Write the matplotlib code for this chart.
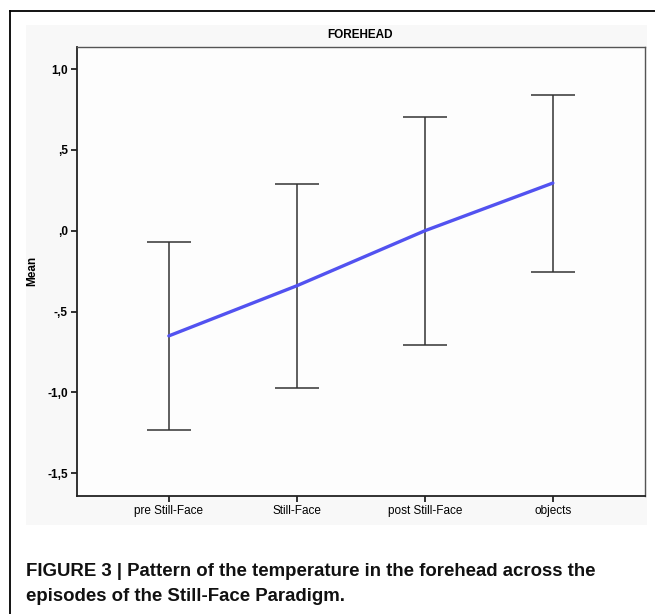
import numpy as np
import matplotlib
matplotlib.use("Agg")
import matplotlib.pyplot as plt
from matplotlib.patches import Rectangle
from matplotlib.lines import Line2D

# data
episodes = ["pre Still-Face", "Still-Face", "post Still-Face", "objects"]
means = [-0.65, -0.34, 0.0, 0.295]
upper = [-0.072, 0.288, 0.703, 0.842]
lower = [-1.231, -0.972, -0.705, -0.256]
ytick_vals = [1.0, 0.5, 0.0, -0.5, -1.0, -1.5]
ytick_labels = ["1,0", ",5", ",0", "-,5", "-1,0", "-1,5"]

plt.rcParams['font.family'] = ['Liberation Sans', 'DejaVu Sans']

W, H = 655, 614
fig = plt.figure(figsize=(W / 100, H / 100), dpi=100)

# faint grey panel behind the SPSS chart
fig.patches.append(Rectangle((26 / W, 1 - 525 / H), (647 - 26) / W, (525 - 25) / H,
                             transform=fig.transFigure, facecolor="#f8f8f8",
                             edgecolor="none", zorder=-5))
# outer frame (left and top only visible)
fig.add_artist(Line2D([10 / W, 10 / W], [0, 1 - 11 / H], transform=fig.transFigure,
                      color="black", lw=1.3))
fig.add_artist(Line2D([10 / W, 1], [1 - 11 / H, 1 - 11 / H], transform=fig.transFigure,
                      color="black", lw=1.3))

left, right, top, bottom = 76.7, 645, 46.7, 496
ax = fig.add_axes([left / W, 1 - bottom / H, (right - left) / W, (bottom - top) / H])
ax.set_zorder(2)
ax.set_facecolor("#fdfdfd")

x = np.arange(len(episodes))
m = np.array(means)
yerr = [m - np.array(lower), np.array(upper) - m]
ax.errorbar(x, m, yerr=yerr, fmt="none", ecolor="#333333", elinewidth=1.1,
            capsize=16, capthick=1.1, zorder=2)
ax.plot(x, m, color="#5252f0", lw=2.4, solid_capstyle="round", zorder=3)

ax.set_xlim(-0.72, 3.72)
ax.set_ylim(-1.64, 1.138)
ax.set_xticks(x)
ax.set_xticklabels(episodes, fontsize=8.5)
ax.set_yticks(ytick_vals)
ax.set_yticklabels(ytick_labels, fontsize=8.5, fontweight="bold")
ax.tick_params(axis="both", direction="out", length=4.5, width=1.3, color="#222222", pad=2)

for s in ["left", "bottom"]:
    ax.spines[s].set_linewidth(1.3)
    ax.spines[s].set_color("#222222")
for s in ["top", "right"]:
    ax.spines[s].set_linewidth(1.0)
    ax.spines[s].set_color("#555555")

ax.set_ylabel("Mean", fontsize=8.5, fontweight="bold")
ax.yaxis.set_label_coords(-(left - 38.5) / (right - left), 0.5)
fig.text(360 / W, 1 - 35 / H, "FOREHEAD", fontsize=8.5, fontweight="bold",
         ha="center", va="center")

fig.text(26.5 / W, 1 - 584 / H,
         "FIGURE 3 | Pattern of the temperature in the forehead across the\n"
         "episodes of the Still-Face Paradigm.",
         fontsize=13.4, fontweight="bold", ha="left", va="center", linespacing=1.55,
         color="#111111")

fig.savefig("out.png", dpi=100)
